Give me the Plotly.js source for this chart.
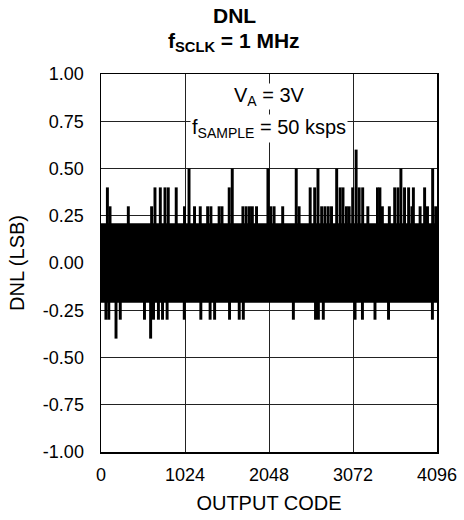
<!DOCTYPE html>
<html>
<head>
<meta charset="utf-8">
<script src="https://cdn.plot.ly/plotly-3.0.1.min.js"></script>
<style>html,body{margin:0;padding:0;background:#fff;}#chart{width:464px;height:520px;}</style>
</head>
<body>
<div id="chart"></div>
<script>
// Dense noise band (codes span, upper and lower DNL limits)
var bandCodes = [0, 4096];
var bandHigh = [0.21, 0.21];
var bandLow = [-0.21, -0.21];

// Positive DNL excursions
var posCodes = [78, 110, 333, 617, 658, 723, 780, 820, 917, 1018, 1073, 1140, 1210, 1300, 1340, 1440, 1475, 1563, 1600, 1730, 1770, 1810, 1845, 1896, 2035, 2070, 2110, 2215, 2380, 2415, 2550, 2605, 2645, 2690, 2730, 2770, 2810, 2873, 2915, 2950, 2992, 3025, 3068, 3110, 3147, 3190, 3253, 3370, 3400, 3430, 3515, 3580, 3620, 3656, 3700, 3750, 3790, 3808, 3890, 3945, 3980, 4043, 4080];
var posDNL = [0.4, 0.3, 0.3, 0.3, 0.4, 0.4, 0.4, 0.4, 0.4, 0.3, 0.5, 0.3, 0.3, 0.3, 0.3, 0.3, 0.3, 0.4, 0.5, 0.3, 0.3, 0.3, 0.3, 0.3, 0.5, 0.3, 0.3, 0.3, 0.5, 0.3, 0.4, 0.4, 0.5, 0.3, 0.3, 0.3, 0.3, 0.5, 0.4, 0.4, 0.3, 0.3, 0.4, 0.6, 0.4, 0.4, 0.3, 0.4, 0.4, 0.3, 0.3, 0.4, 0.4, 0.5, 0.4, 0.4, 0.3, 0.4, 0.3, 0.4, 0.3, 0.5, 0.3];

// Negative DNL excursions
var negCodes = [60, 95, 183, 235, 530, 605, 640, 700, 750, 806, 1015, 1217, 1330, 1385, 1567, 1685, 1735, 2345, 2615, 2650, 2710, 3097, 3187, 3340, 3505, 4040];
var negDNL = [-0.3, -0.3, -0.4, -0.3, -0.3, -0.4, -0.3, -0.3, -0.3, -0.3, -0.3, -0.3, -0.3, -0.3, -0.3, -0.3, -0.3, -0.3, -0.3, -0.3, -0.3, -0.3, -0.3, -0.3, -0.3, -0.3];

// Tick labels
var xTicks = [0, 1024, 2048, 3072, 4096];
var yTicks = [-1, -0.75, -0.5, -0.25, 0, 0.25, 0.5, 0.75, 1];
var yTickText = ["-1.00", "-0.75", "-0.50", "-0.25", "0.00", "0.25", "0.50", "0.75", "1.00"];

var FONT = "Liberation Sans, Arial, sans-serif";

var traces = [
  {type: "scatter", mode: "lines", x: bandCodes, y: bandLow, line: {width: 0, color: "#000"}, hoverinfo: "skip", showlegend: false},
  {type: "scatter", mode: "lines", x: bandCodes, y: bandHigh, fill: "tonexty", fillcolor: "#000", line: {width: 0, color: "#000"}, hoverinfo: "skip", showlegend: false},
  {type: "bar", x: posCodes, y: posDNL, base: 0, width: 36, marker: {color: "#000", line: {width: 0}}, showlegend: false},
  {type: "bar", x: negCodes, y: negDNL, base: 0, width: 36, marker: {color: "#000", line: {width: 0}}, showlegend: false}
];

var layout = {
  width: 464, height: 520,
  margin: {l: 101, r: 27, t: 74, b: 68},
  paper_bgcolor: "#fff", plot_bgcolor: "#fff",
  barmode: "overlay",
  font: {family: FONT, size: 18, color: "#000"},
  xaxis: {
    range: [0, 4096], tickvals: xTicks, ticktext: xTicks.map(String),
    showgrid: true, gridcolor: "#222", gridwidth: 1,
    showline: true, linecolor: "#000", linewidth: 1.5, mirror: true,
    ticks: "", zeroline: false, ticklabelstandoff: 6,
    tickfont: {family: FONT, size: 18, color: "#000"},
    title: {text: "OUTPUT CODE", font: {family: FONT, size: 20, color: "#000"}, standoff: 12}
  },
  yaxis: {
    range: [-1, 1], tickvals: yTicks, ticktext: yTickText,
    showgrid: true, gridcolor: "#222", gridwidth: 1,
    showline: true, linecolor: "#000", linewidth: 1.5, mirror: true,
    ticks: "", zeroline: false, ticklabelstandoff: 12,
    tickfont: {family: FONT, size: 18, color: "#000"},
    title: {text: "DNL (LSB)", font: {family: FONT, size: 20, color: "#000"}, standoff: 13}
  },
  annotations: [
    {x: 0.396, y: 1.155, xref: "paper", yref: "paper", text: "<b>DNL</b>", showarrow: false,
     font: {family: FONT, size: 21, color: "#000"}, xanchor: "center", yanchor: "middle"},
    {x: 0.396, y: 1.085, xref: "paper", yref: "paper", text: "<b>f<sub>SCLK</sub> = 1 MHz</b>", showarrow: false,
     font: {family: FONT, size: 21, color: "#000"}, xanchor: "center", yanchor: "middle"},
    {x: 2048, y: 0.88, xref: "x", yref: "y", text: "V<sub>A</sub> = 3V", showarrow: false,
     font: {family: FONT, size: 20, color: "#000"}, bgcolor: "#fff", xanchor: "center", yanchor: "middle", borderpad: 0},
    {x: 2048, y: 0.71, xref: "x", yref: "y", text: "f<sub>SAMPLE</sub> = 50 ksps", showarrow: false,
     font: {family: FONT, size: 20, color: "#000"}, bgcolor: "#fff", xanchor: "center", yanchor: "middle", borderpad: 1}
  ]
};

Plotly.newPlot("chart", traces, layout, {displayModeBar: false, staticPlot: true});
</script>
</body>
</html>
